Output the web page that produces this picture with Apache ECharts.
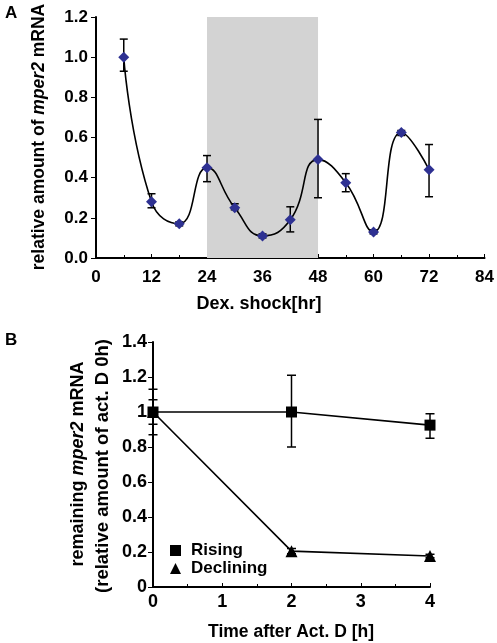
<!DOCTYPE html>
<html><head><meta charset="utf-8">
<script src="https://cdn.jsdelivr.net/npm/echarts@6/dist/echarts.min.js"></script>
<style>html,body{margin:0;padding:0;background:#fff}#c{width:497px;height:643px}</style>
</head><body><div id="c"></div>
<script>
// Panel A
const hoursA = [6, 12, 18, 24, 30, 36, 42, 48, 54, 60, 66, 72];
const mper2A = [1.0, 0.28, 0.17, 0.45, 0.25, 0.11, 0.19, 0.49, 0.375, 0.13, 0.625, 0.44];
const errLowA = [0.93, 0.25, 0.16, 0.38, 0.24, 0.10, 0.13, 0.30, 0.33, 0.12, 0.61, 0.305];
const errHighA = [1.09, 0.32, 0.18, 0.51, 0.27, 0.12, 0.255, 0.69, 0.42, 0.14, 0.635, 0.565];
const shadeA = [24, 48];
// Panel B
const hoursB = [0, 2, 4];
const rising = [1.0, 1.0, 0.925];
const risingLow = [0.87, 0.80, 0.85];
const risingHigh = [1.13, 1.21, 0.99];
const declining = [1.0, 0.205, 0.177];
const decliningLow = [0.93, 0.19, 0.167];
const decliningHigh = [1.07, 0.22, 0.187];

const FONT = '"Liberation Sans", Arial, sans-serif';
const chart = echarts.init(document.getElementById('c'));

function errSeries(xi, yi, xs, lo, hi, halfW) {
  return {
    type: 'custom', xAxisIndex: xi, yAxisIndex: yi, z: 3, silent: true,
    data: xs.map((x, i) => [x, lo[i], hi[i]]),
    renderItem: function (params, api) {
      const a = api.coord([api.value(0), api.value(1)]);
      const b = api.coord([api.value(0), api.value(2)]);
      const st = { stroke: '#000', lineWidth: 1.5 };
      return { type: 'group', children: [
        { type: 'line', shape: { x1: a[0], y1: a[1], x2: b[0], y2: b[1] }, style: st },
        { type: 'line', shape: { x1: a[0] - halfW, y1: a[1], x2: a[0] + halfW, y2: a[1] }, style: st },
        { type: 'line', shape: { x1: b[0] - halfW, y1: b[1], x2: b[0] + halfW, y2: b[1] }, style: st }
      ]};
    }
  };
}

const lab = { fontFamily: FONT, fontWeight: 'bold', color: '#000' };
const axLine = { show: true, lineStyle: { color: '#000', width: 2 } };

chart.setOption({
  animation: false,
  grid: [
    { left: 96, right: 12, top: 17, bottom: 385 },
    { left: 153, right: 67, top: 342, bottom: 56 }
  ],
  xAxis: [
    { gridIndex: 0, type: 'value', min: 0, max: 84, interval: 12,
      axisLine: axLine, splitLine: { show: false },
      axisTick: { show: true, inside: true, length: 4, lineStyle: { color: '#000' } },
      minorTick: { show: true, splitNumber: 2, length: 3, lineStyle: { color: '#000' } },
      axisLabel: Object.assign({ fontSize: 17, margin: 11 }, lab) },
    { gridIndex: 1, type: 'value', min: 0, max: 4, interval: 1,
      axisLine: axLine, splitLine: { show: false },
      axisTick: { show: true, inside: true, length: 4, lineStyle: { color: '#000' } },
      minorTick: { show: true, splitNumber: 2, length: 3, lineStyle: { color: '#000' } },
      axisLabel: Object.assign({ fontSize: 18, margin: 6 }, lab) }
  ],
  yAxis: [
    { gridIndex: 0, type: 'value', min: 0, max: 1.2, interval: 0.2,
      axisLine: axLine, splitLine: { show: false },
      axisTick: { show: true, length: 5, lineStyle: { color: '#000' } },
      axisLabel: Object.assign({ fontSize: 17, margin: 8, formatter: v => v.toFixed(1) }, lab) },
    { gridIndex: 1, type: 'value', min: 0, max: 1.4, interval: 0.2,
      axisLine: axLine, splitLine: { show: false },
      axisTick: { show: true, length: 5, lineStyle: { color: '#000' } },
      axisLabel: Object.assign({ fontSize: 18, margin: 6 }, lab) }
  ],
  legend: {
    left: 165, top: 537, orient: 'vertical', itemGap: 1, itemWidth: 11, itemHeight: 11,
    textStyle: Object.assign({ fontSize: 17, padding: [0, 0, 0, 5] }, lab),
    data: [{ name: 'Rising', icon: 'rect' }, { name: 'Declining', icon: 'triangle' }]
  },
  series: [
    { type: 'line', xAxisIndex: 0, yAxisIndex: 0, smooth: 0.5,
      data: hoursA.map((h, i) => [h, mper2A[i]]),
      lineStyle: { color: '#000', width: 1.6 },
      symbol: 'diamond', symbolSize: 11, itemStyle: { color: '#2E3192' }, z: 4,
      markArea: { silent: true, itemStyle: { color: '#d3d3d3' },
        data: [[{ xAxis: shadeA[0] }, { xAxis: shadeA[1] }]] } },
    errSeries(0, 0, hoursA, errLowA, errHighA, 4),
    errSeries(1, 1, hoursB, risingLow, risingHigh, 4.5),
    errSeries(1, 1, hoursB, decliningLow, decliningHigh, 4.5),
    { name: 'Rising', type: 'line', xAxisIndex: 1, yAxisIndex: 1,
      data: hoursB.map((h, i) => [h, rising[i]]),
      lineStyle: { color: '#000', width: 1.6 }, symbol: 'rect', symbolSize: 11,
      itemStyle: { color: '#000' }, z: 4 },
    { name: 'Declining', type: 'line', xAxisIndex: 1, yAxisIndex: 1,
      data: hoursB.map((h, i) => [h, declining[i]]),
      lineStyle: { color: '#000', width: 1.6 }, symbol: 'triangle', symbolSize: 12,
      itemStyle: { color: '#000' }, z: 4 }
  ],
  graphic: [
    { type: 'text', left: 5, top: 5, style: { text: 'A', font: 'bold 17px ' + FONT, fill: '#000' } },
    { type: 'text', left: 5, top: 332, style: { text: 'B', font: 'bold 17px ' + FONT, fill: '#000' } },
    { type: 'text', x: 259, y: 304, style: { text: 'Dex. shock[hr]', font: 'bold 18px ' + FONT, fill: '#000', align: 'center', verticalAlign: 'middle' } },
    { type: 'text', x: 291, y: 632, style: { text: 'Time after Act. D [h]', font: 'bold 17.5px ' + FONT, fill: '#000', align: 'center', verticalAlign: 'middle' } },
    { type: 'text', x: 39, y: 137, rotation: Math.PI / 2,
      style: { text: 'relative amount of {i|mper2} mRNA', font: 'bold 17.5px ' + FONT, fill: '#000', align: 'center', verticalAlign: 'middle',
        rich: { i: { fontStyle: 'italic', fontWeight: 'bold', fontSize: 17.5, fontFamily: FONT } } } },
    { type: 'text', x: 78, y: 464, rotation: Math.PI / 2,
      style: { text: 'remaining {i|mper2} mRNA', font: 'bold 18px ' + FONT, fill: '#000', align: 'center', verticalAlign: 'middle',
        rich: { i: { fontStyle: 'italic', fontWeight: 'bold', fontSize: 18, fontFamily: FONT } } } },
    { type: 'text', x: 103, y: 466, rotation: Math.PI / 2,
      style: { text: '(relative amount of act. D 0h)', font: 'bold 18.5px ' + FONT, fill: '#000', align: 'center', verticalAlign: 'middle' } }
  ]
});
</script></body></html>
